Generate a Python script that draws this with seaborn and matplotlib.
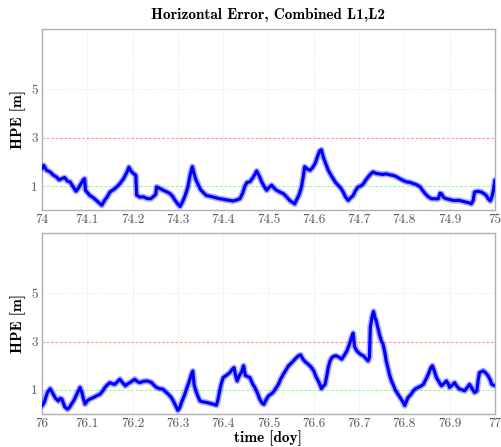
import matplotlib
matplotlib.use("Agg")
import matplotlib.pyplot as plt
import seaborn as sns
import pandas as pd

# Horizontal position error, day 74
doy_74 = [74.000, 74.004, 74.010, 74.018, 74.025, 74.032, 74.038, 74.043, 74.050, 74.056,
          74.062, 74.069, 74.075, 74.080, 74.084, 74.091, 74.094, 74.096, 74.106, 74.113,
          74.120, 74.128, 74.132, 74.138, 74.144, 74.150, 74.158, 74.165, 74.172, 74.180,
          74.187, 74.192, 74.197, 74.203, 74.207, 74.209, 74.216, 74.224, 74.232, 74.240,
          74.247, 74.251, 74.253, 74.260, 74.268, 74.276, 74.283, 74.289, 74.294, 74.300,
          74.305, 74.310, 74.316, 74.322, 74.327, 74.332, 74.336, 74.340, 74.345, 74.350,
          74.355, 74.363, 74.370, 74.378, 74.386, 74.393, 74.400, 74.408, 74.415, 74.422,
          74.430, 74.437, 74.443, 74.448, 74.453, 74.459, 74.466, 74.474, 74.480, 74.485,
          74.490, 74.496, 74.502, 74.507, 74.513, 74.518, 74.525, 74.533, 74.540, 74.547,
          74.553, 74.558, 74.563, 74.568, 74.573, 74.577, 74.580, 74.586, 74.592, 74.597,
          74.603, 74.608, 74.613, 74.617, 74.621, 74.626, 74.632, 74.638, 74.643, 74.648,
          74.654, 74.660, 74.665, 74.670, 74.676, 74.681, 74.687, 74.692, 74.698, 74.704,
          74.710, 74.715, 74.720, 74.726, 74.731, 74.738, 74.745, 74.752, 74.760, 74.768,
          74.775, 74.783, 74.790, 74.798, 74.805, 74.812, 74.820, 74.827, 74.835, 74.841,
          74.846, 74.853, 74.860, 74.868, 74.875, 74.879, 74.882, 74.887, 74.893, 74.900,
          74.908, 74.915, 74.922, 74.930, 74.937, 74.943, 74.948, 74.952, 74.955, 74.962,
          74.970, 74.976, 74.981, 74.986, 74.990, 74.994, 74.997, 75.000]
hpe_74 = [1.72, 1.85, 1.65, 1.58, 1.45, 1.37, 1.25, 1.30, 1.35, 1.20,
          1.17, 0.96, 0.78, 0.90, 1.03, 1.25, 1.30, 0.82, 0.60, 0.52,
          0.40, 0.26, 0.20, 0.40, 0.55, 0.75, 0.85, 0.96, 1.10, 1.30,
          1.55, 1.78, 1.60, 1.50, 1.45, 0.62, 0.54, 0.55, 0.48, 0.47,
          0.58, 0.65, 0.96, 0.90, 0.82, 0.75, 0.68, 0.55, 0.40, 0.25,
          0.15, 0.33, 0.60, 0.95, 1.45, 1.80, 1.50, 1.25, 1.05, 0.85,
          0.75, 0.60, 0.58, 0.54, 0.50, 0.47, 0.45, 0.42, 0.40, 0.38,
          0.42, 0.47, 0.70, 1.00, 1.15, 1.17, 1.35, 1.62, 1.40, 1.17,
          1.00, 0.82, 0.95, 1.03, 0.90, 0.82, 0.75, 0.68, 0.55, 0.40,
          0.32, 0.26, 0.45, 0.65, 0.96, 1.40, 1.80, 1.70, 1.65, 1.75,
          1.93, 2.20, 2.45, 2.50, 2.20, 1.95, 1.65, 1.45, 1.30, 1.15,
          1.03, 0.90, 0.75, 0.55, 0.40, 0.50, 0.60, 0.80, 0.96, 1.00,
          1.10, 1.25, 1.37, 1.50, 1.58, 1.52, 1.50, 1.48, 1.50, 1.46,
          1.44, 1.38, 1.30, 1.22, 1.17, 1.15, 1.10, 1.05, 0.96, 0.80,
          0.68, 0.55, 0.47, 0.47, 0.47, 0.70, 0.68, 0.52, 0.47, 0.44,
          0.40, 0.40, 0.40, 0.36, 0.33, 0.30, 0.26, 0.40, 0.75, 0.78,
          0.75, 0.68, 0.60, 0.45, 0.38, 0.60, 0.85, 1.24]

# Horizontal position error, day 76
doy_76 = [76.000, 76.005, 76.012, 76.018, 76.024, 76.030, 76.036, 76.040, 76.044, 76.050,
          76.056, 76.061, 76.065, 76.070, 76.075, 76.080, 76.084, 76.088, 76.092, 76.095,
          76.100, 76.106, 76.113, 76.120, 76.128, 76.134, 76.139, 76.145, 76.150, 76.156,
          76.161, 76.167, 76.172, 76.178, 76.184, 76.189, 76.194, 76.200, 76.205, 76.210,
          76.216, 76.223, 76.230, 76.236, 76.242, 76.248, 76.253, 76.260, 76.267, 76.273,
          76.279, 76.285, 76.290, 76.296, 76.300, 76.304, 76.308, 76.314, 76.319, 76.325,
          76.330, 76.333, 76.336, 76.341, 76.345, 76.349, 76.356, 76.363, 76.370, 76.378,
          76.385, 76.388, 76.391, 76.395, 76.400, 76.407, 76.415, 76.420, 76.424, 76.428,
          76.431, 76.436, 76.441, 76.445, 76.449, 76.454, 76.459, 76.465, 76.470, 76.476,
          76.481, 76.486, 76.490, 76.495, 76.500, 76.505, 76.510, 76.516, 76.522, 76.527,
          76.533, 76.538, 76.544, 76.550, 76.555, 76.560, 76.566, 76.571, 76.577, 76.582,
          76.588, 76.594, 76.600, 76.605, 76.610, 76.614, 76.617, 76.621, 76.625, 76.629,
          76.632, 76.636, 76.640, 76.645, 76.650, 76.656, 76.662, 76.668, 76.673, 76.678,
          76.684, 76.687, 76.690, 76.694, 76.699, 76.705, 76.710, 76.715, 76.720, 76.723,
          76.725, 76.729, 76.732, 76.735, 76.738, 76.742, 76.745, 76.749, 76.753, 76.757,
          76.760, 76.764, 76.767, 76.771, 76.775, 76.780, 76.786, 76.792, 76.797, 76.801,
          76.805, 76.808, 76.814, 76.820, 76.825, 76.830, 76.836, 76.842, 76.848, 76.853,
          76.858, 76.862, 76.866, 76.871, 76.876, 76.882, 76.887, 76.893, 76.897, 76.900,
          76.906, 76.911, 76.916, 76.922, 76.928, 76.933, 76.939, 76.944, 76.950, 76.955,
          76.960, 76.963, 76.966, 76.970, 76.974, 76.980, 76.985, 76.990, 76.993, 77.000]
hpe_76 = [0.34, 0.48, 0.90, 1.05, 0.85, 0.65, 0.54, 0.65, 0.62, 0.30,
          0.20, 0.28, 0.41, 0.55, 0.75, 0.96, 1.10, 0.90, 0.60, 0.41,
          0.55, 0.62, 0.68, 0.75, 0.82, 0.95, 1.10, 1.22, 1.30, 1.25,
          1.23, 1.35, 1.44, 1.30, 1.17, 1.25, 1.30, 1.38, 1.44, 1.35,
          1.30, 1.35, 1.37, 1.35, 1.30, 1.18, 1.10, 1.05, 1.03, 0.92,
          0.82, 0.70, 0.54, 0.30, 0.15, 0.25, 0.48, 0.75, 1.03, 1.35,
          1.65, 1.78, 1.20, 0.89, 0.70, 0.54, 0.50, 0.48, 0.45, 0.41,
          0.36, 0.55, 0.82, 1.20, 1.51, 1.60, 1.72, 1.85, 1.92, 1.55,
          1.37, 1.60, 1.75, 2.00, 1.60, 1.55, 1.51, 1.25, 1.10, 0.85,
          0.61, 0.45, 0.40, 0.60, 0.75, 0.82, 0.89, 1.05, 1.23, 1.45,
          1.65, 1.80, 1.99, 2.10, 2.20, 2.30, 2.41, 2.45, 2.25, 2.15,
          2.06, 1.95, 1.79, 1.55, 1.37, 1.20, 1.05, 1.15, 1.23, 1.60,
          1.92, 2.20, 2.34, 2.40, 2.41, 2.35, 2.27, 2.45, 2.61, 2.85,
          3.20, 3.35, 2.80, 2.65, 2.54, 2.45, 2.41, 2.30, 2.20, 2.35,
          3.60, 4.05, 4.25, 4.00, 3.86, 3.55, 3.30, 3.05, 2.89, 2.55,
          2.20, 1.90, 1.65, 1.40, 1.23, 1.00, 0.82, 0.65, 0.50, 0.35,
          0.55, 0.68, 0.80, 0.96, 1.05, 1.10, 1.15, 1.23, 1.45, 1.65,
          1.90, 2.00, 1.80, 1.51, 1.35, 1.17, 1.25, 1.37, 1.25, 1.10,
          1.20, 1.30, 1.15, 1.03, 1.00, 0.96, 1.10, 1.23, 1.05, 0.89,
          0.95, 1.40, 1.72, 1.75, 1.79, 1.70, 1.58, 1.40, 1.23, 1.17]

xticks_74 = [74.0, 74.1, 74.2, 74.3, 74.4, 74.5, 74.6, 74.7, 74.8, 74.9, 75.0]
xticks_76 = [76.0, 76.1, 76.2, 76.3, 76.4, 76.5, 76.6, 76.7, 76.8, 76.9, 77.0]
xlabels_74 = ["74", "74.1", "74.2", "74.3", "74.4", "74.5", "74.6", "74.7", "74.8", "74.9", "75"]
xlabels_76 = ["76", "76.1", "76.2", "76.3", "76.4", "76.5", "76.6", "76.7", "76.8", "76.9", "77"]
yticks = [1, 3, 5]
threshold_green = 1.0
threshold_red = 3.0

sns.set_theme(style="white")
plt.rcParams["font.family"] = ["cmr10", "DejaVu Serif"]
plt.rcParams["axes.formatter.use_mathtext"] = True

fig = plt.figure(figsize=(5.01, 4.47), dpi=100)
ax_top = fig.add_axes([0.0838, 0.530, 0.904, 0.405])
ax_bot = fig.add_axes([0.0838, 0.0738, 0.904, 0.405])

panels = [
    (ax_top, doy_74, hpe_74, xticks_74, xlabels_74),
    (ax_bot, doy_76, hpe_76, xticks_76, xlabels_76),
]

bold = dict(family="cmb10", fontsize=11, color="black")

for ax, doy, hpe, xt, xl in panels:
    df = pd.DataFrame({"doy": doy, "hpe": hpe})
    ax.set_xlim(xt[0], xt[-1])
    ax.set_ylim(0, 7.5)
    ax.set_xticks(xt)
    ax.set_xticklabels(xl)
    ax.set_yticks(yticks)
    ax.set_yticklabels([str(v) for v in yticks])
    ax.grid(True, color="#e0e0e0", linestyle=(0, (1, 2)), linewidth=0.7)
    ax.axhline(threshold_red, color="#ff9090", linestyle=(0, (2, 2)), linewidth=0.8, zorder=2)
    ax.axhline(threshold_green, color="#a8e8a8", linestyle=(0, (2, 2)), linewidth=0.8, zorder=2)
    # soft halo + solid core give the noisy band look
    sns.lineplot(data=df, x="doy", y="hpe", ax=ax, color="#0000ff", linewidth=4.6,
                 alpha=0.3, estimator=None, sort=False, zorder=3)
    sns.lineplot(data=df, x="doy", y="hpe", ax=ax, color="#0000ff", linewidth=2.3,
                 estimator=None, sort=False, zorder=4)
    ax.set_xlabel("")
    ax.set_ylabel("HPE [m]", **bold, labelpad=4)
    for s in ax.spines.values():
        s.set_color("#b0b0b0")
        s.set_linewidth(1.0)
    ax.tick_params(axis="both", length=0, labelsize=9.5, labelcolor="#555555", pad=3)

ax_top.set_title("Horizontal Error, Combined L1,L2", **bold, pad=7)
ax_bot.set_xlabel("time [doy]", **bold, labelpad=0)

fig.savefig("out.png", dpi=100)
